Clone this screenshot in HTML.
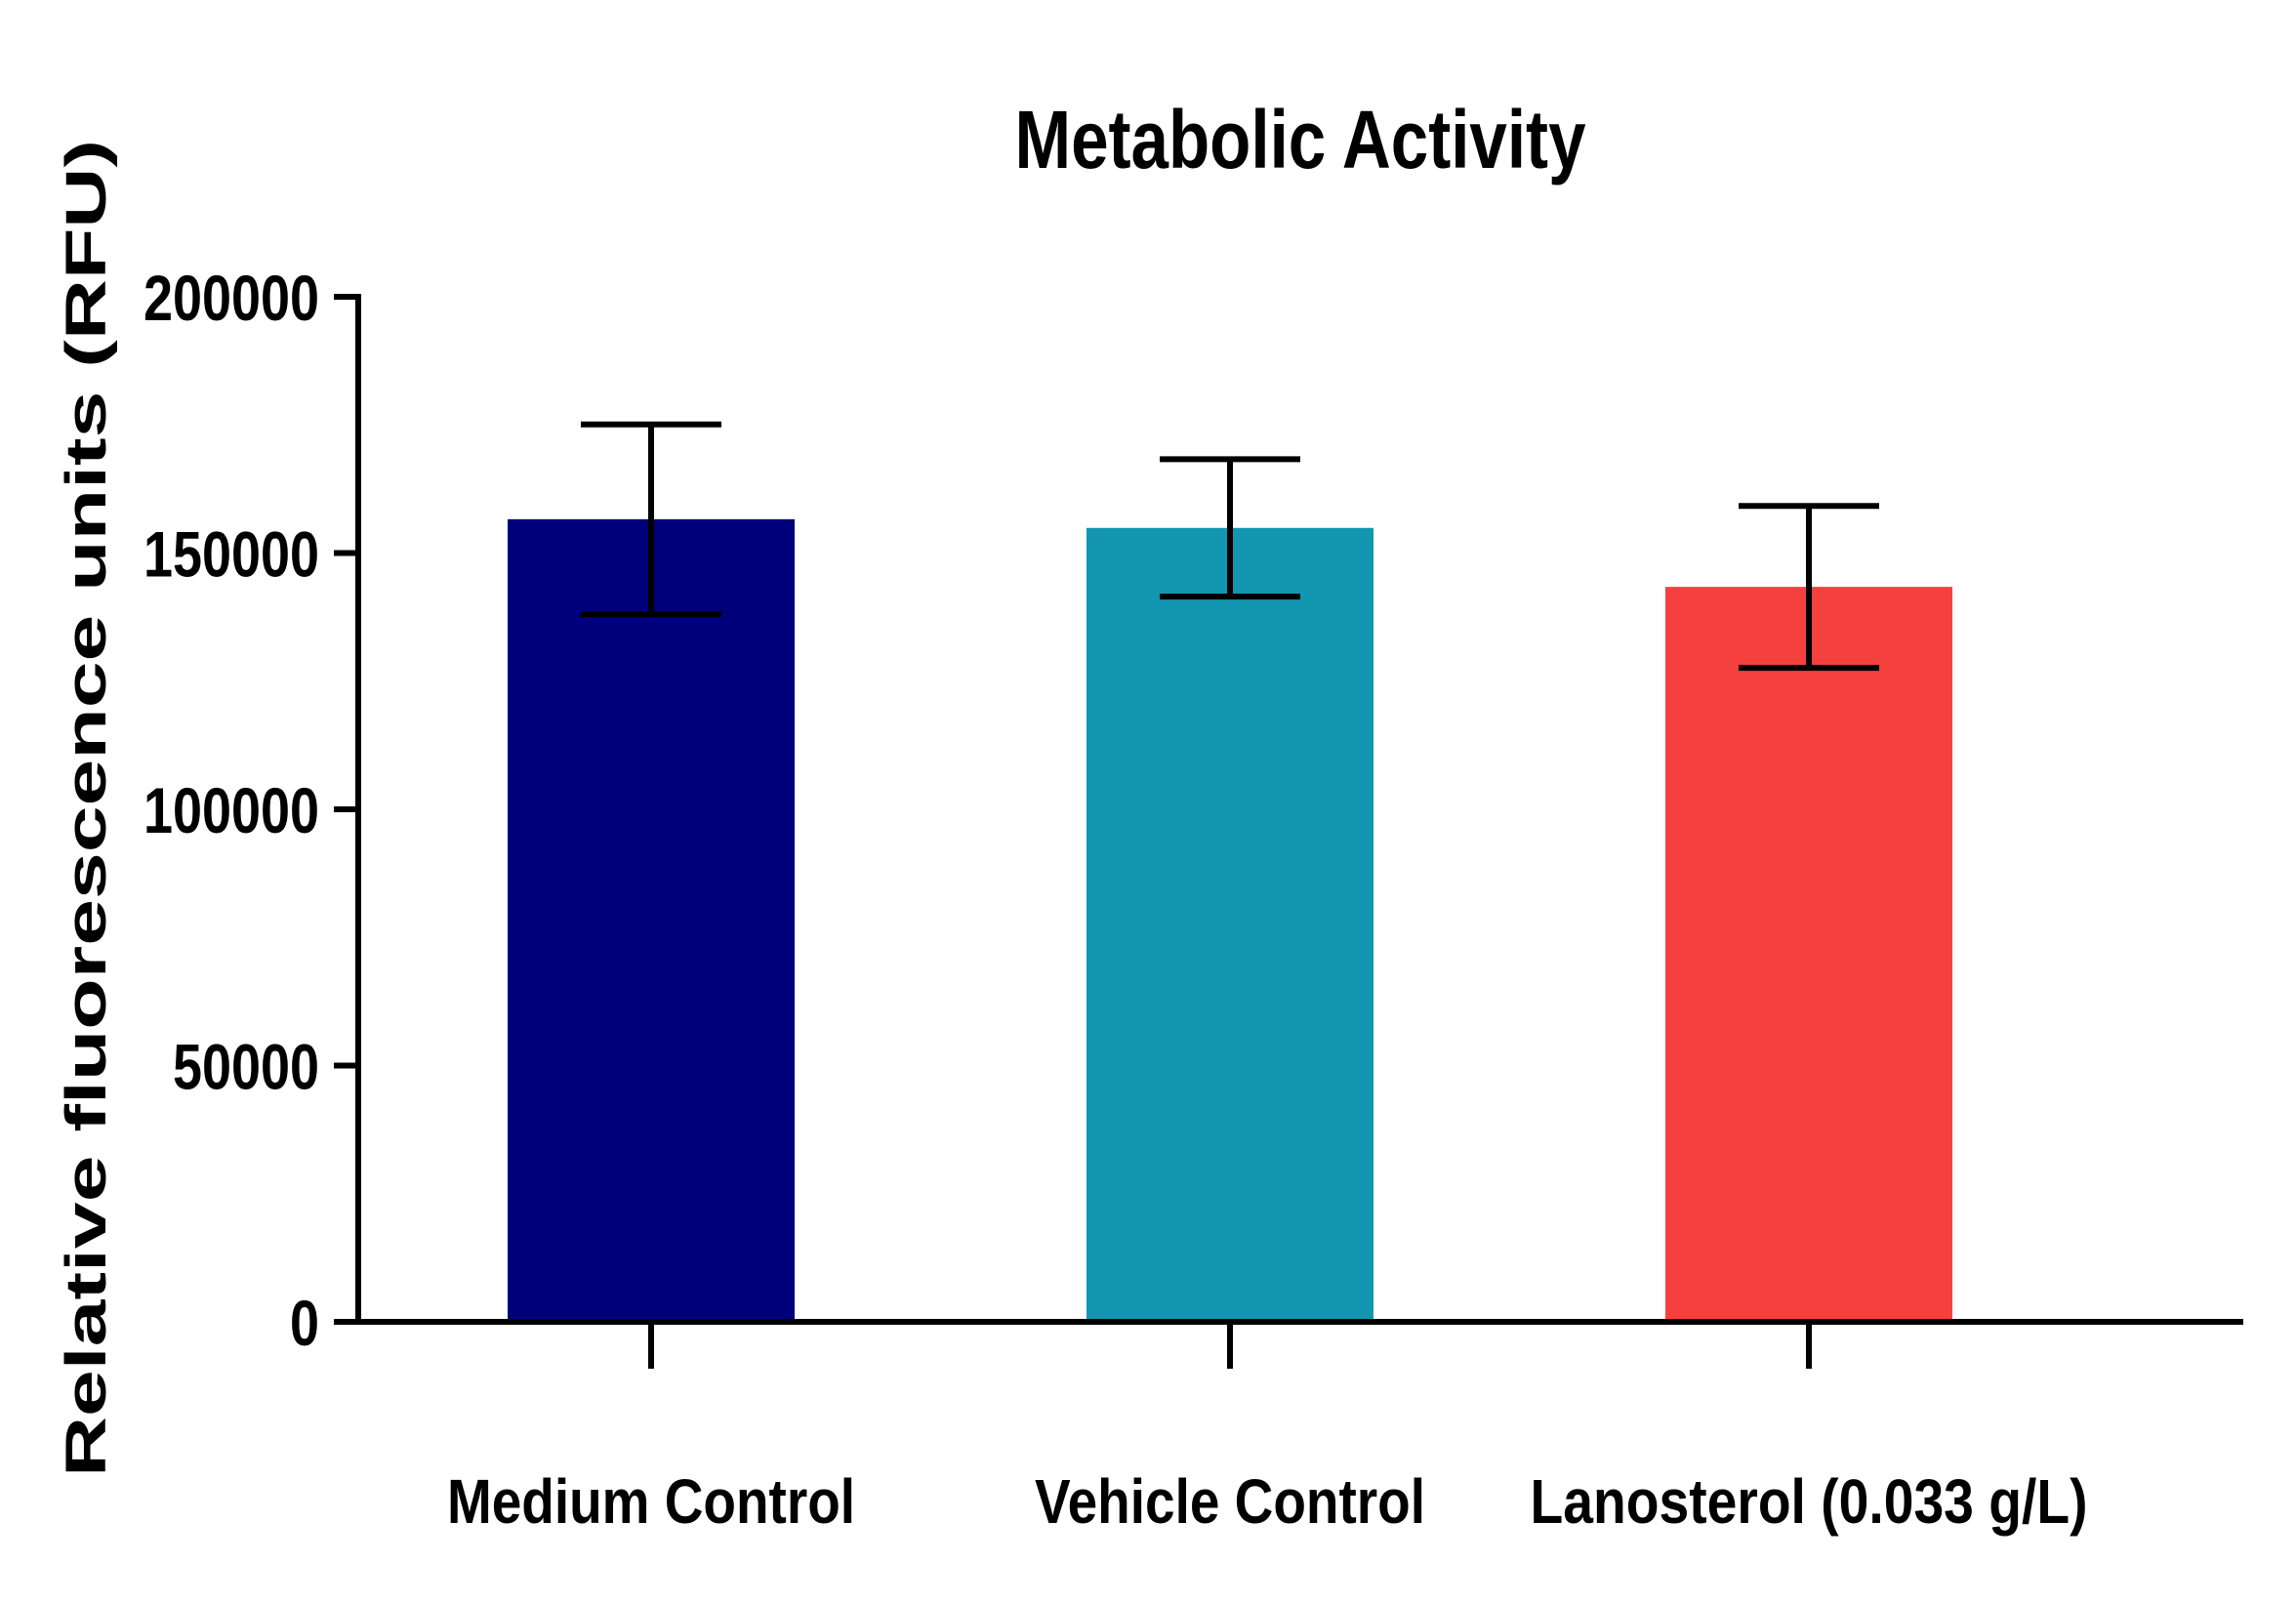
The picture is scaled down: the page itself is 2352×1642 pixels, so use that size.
<!DOCTYPE html>
<html><head><meta charset="utf-8"><style>html,body{margin:0;padding:0;background:#fff}svg{display:block}</style></head>
<body>
<svg id="chart" width="2352" height="1642" viewBox="0 0 2352 1642" xmlns="http://www.w3.org/2000/svg" font-family="'Liberation Sans', sans-serif"></svg>
<script>
const categories = ["Medium Control", "Vehicle Control", "Lanosterol (0.033 g/L)"];
const means = [156600, 154900, 143400];
const errors = [18500, 13400, 15800];
const colors = ["#00007A", "#1397B0", "#F54040"];
const yTicks = [0, 50000, 100000, 150000, 200000];
const labelWidths = [418, 400, 571];

const NS = "http://www.w3.org/2000/svg";
const svg = document.getElementById("chart");
const x0 = 367, y0 = 1354, yTop = 304, yMax = 200000;
const xEnd = 2298;
const catStart = 667, catStep = 593;
const barW = 294;
function y(v){ return y0 - (v / yMax) * (y0 - yTop); }
function x(i){ return catStart + i * catStep; }
function el(tag, attrs, parent){ const e = document.createElementNS(NS, tag); for (const k in attrs) e.setAttribute(k, attrs[k]); (parent||svg).appendChild(e); return e; }

const title = el("text", {x:1332, y:172, "text-anchor":"middle", "font-size":84, "font-weight":"bold", textLength:585, lengthAdjust:"spacingAndGlyphs", fill:"#000"});


title.textContent = "Metabolic Activity";

const yl = el("text", {x:0, y:0, transform:"translate(108,828) rotate(-90)", "text-anchor":"middle", "font-size":58, "font-weight":"bold", textLength:1370, lengthAdjust:"spacingAndGlyphs", fill:"#000"});


yl.textContent = "Relative fluorescence units (RFU)";

categories.forEach((c, i) => {
  const bar = el("rect", {x:x(i)-barW/2, y:y(means[i]), width:barW, height:y0-y(means[i]), fill:colors[i]});
  
  
  const g = el("g", {stroke:"#000", "stroke-width":6});
  
  
  el("line", {x1:x(i), x2:x(i), y1:y(means[i]+errors[i]), y2:y(means[i]-errors[i])}, g);
  el("line", {x1:x(i)-72, x2:x(i)+72, y1:y(means[i]+errors[i]), y2:y(means[i]+errors[i])}, g);
  el("line", {x1:x(i)-72, x2:x(i)+72, y1:y(means[i]-errors[i]), y2:y(means[i]-errors[i])}, g);
  const t = el("line", {x1:x(i), x2:x(i), y1:y0, y2:y0+48, stroke:"#000", "stroke-width":6});
  
  
  const lbl = el("text", {x:x(i), y:1560, "text-anchor":"middle", "font-size":64, "font-weight":"bold", textLength:labelWidths[i], lengthAdjust:"spacingAndGlyphs", fill:"#000"});
  
  
  lbl.textContent = c;
});

yTicks.forEach(v => {
  const t = el("line", {x1:342, x2:x0, y1:y(v), y2:y(v), stroke:"#000", "stroke-width":6});
  
  
  const s = String(v);
  const lbl = el("text", {x:327, y:y(v)+24, "text-anchor":"end", "font-size":66, "font-weight":"bold", textLength:s.length*30, lengthAdjust:"spacingAndGlyphs", fill:"#000"});
  
  
  lbl.textContent = s;
});

const ya = el("line", {x1:x0, x2:x0, y1:yTop-3, y2:y0+3, stroke:"#000", "stroke-width":6});


const xa = el("line", {x1:342, x2:xEnd, y1:y0, y2:y0, stroke:"#000", "stroke-width":6});


</script>
</body></html>
